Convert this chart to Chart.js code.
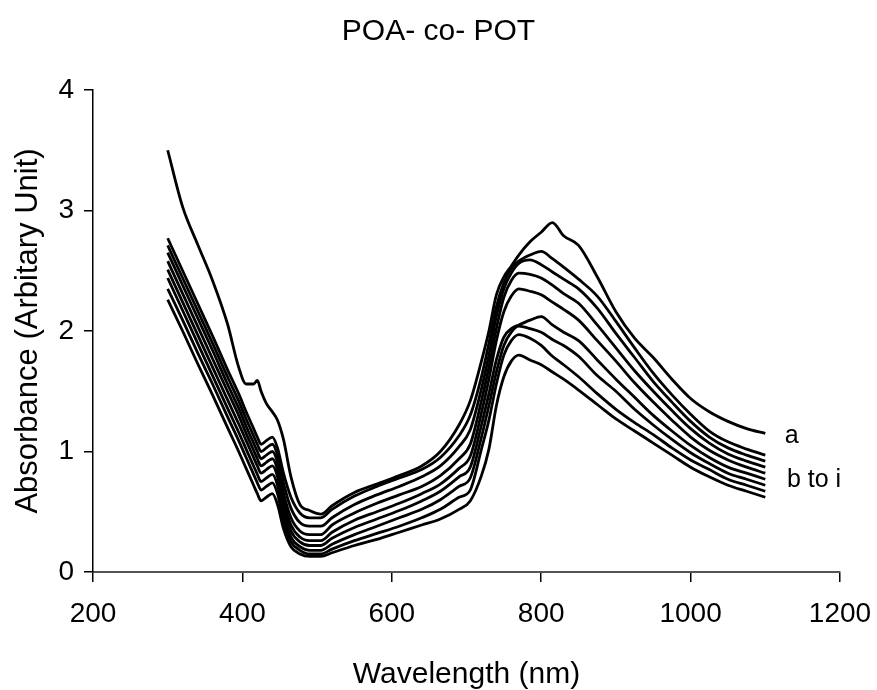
<!DOCTYPE html>
<html><head><meta charset="utf-8">
<script src="https://cdn.jsdelivr.net/npm/chart.js@4"></script>
<style>html,body{margin:0;padding:0;background:#fff}</style>
</head>
<body>
<canvas id="c" width="877" height="690"></canvas>
<script>
const wavelength=[300,320,340,360,380,395,405,415,420,425,432,440,447,455,465,477,490,505,520,550,580,610,640,665,690,705,720,730,740,750,760,770,785,800,815,830,850,875,900,925,950,975,1000,1025,1050,1075,1100];
const absA=[3.50,3.03,2.72,2.42,2.06, 1.70,1.56,1.56,1.59,1.50, 1.40,1.33,1.26,1.10,0.79, 0.56,0.51,0.48,0.55,0.66, 0.73,0.80,0.88,1.00,1.22, 1.42,1.75,2.00,2.30,2.45, 2.54,2.63,2.74,2.82,2.90, 2.79,2.71,2.45,2.16,1.94, 1.78,1.60,1.44,1.33,1.25, 1.19,1.15];
const absB=[2.77,2.50,2.23,1.96,1.68, 1.48,1.33,1.19,1.12,1.06, 1.09,1.12,1.03,0.82,0.62, 0.49,0.45,0.45,0.52,0.63, 0.71,0.78,0.85,0.95,1.13, 1.30,1.62,1.90,2.20,2.40, 2.52,2.58,2.63,2.66,2.60, 2.53,2.43,2.29,2.08,1.86, 1.65,1.47,1.31,1.17,1.08, 1.02,0.97];
const absC=[2.71,2.44,2.17,1.90,1.62, 1.42,1.27,1.13,1.06,1.00, 1.03,1.06,0.97,0.74,0.53, 0.41,0.38,0.38,0.45,0.56, 0.64,0.71,0.79,0.88,1.04, 1.18,1.52,1.80,2.12,2.35, 2.48,2.56,2.59,2.55,2.49, 2.43,2.35,2.19,1.98,1.78, 1.58,1.41,1.25,1.12,1.03, 0.97,0.92];
const absD=[2.65,2.38,2.11,1.84,1.56, 1.36,1.21,1.07,1.00,0.94, 0.97,1.00,0.91,0.66,0.45, 0.34,0.31,0.31,0.39,0.49, 0.57,0.64,0.71,0.80,0.94, 1.06,1.42,1.70,2.02,2.28, 2.42,2.48,2.47,2.44,2.38, 2.31,2.23,2.05,1.86,1.67, 1.50,1.34,1.19,1.07,0.98, 0.92,0.87];
const absE=[2.58,2.31,2.04,1.77,1.50, 1.30,1.15,1.01,0.94,0.88, 0.91,0.94,0.85,0.60,0.39, 0.29,0.26,0.26,0.33,0.43, 0.50,0.57,0.65,0.73,0.86, 0.96,1.32,1.60,1.92,2.16, 2.29,2.35,2.33,2.30,2.24, 2.18,2.09,1.92,1.75,1.57, 1.41,1.26,1.12,1.01,0.93, 0.87,0.82];
const absF=[2.51,2.24,1.97,1.70,1.43, 1.23,1.09,0.95,0.88,0.82, 0.85,0.88,0.79,0.54,0.34, 0.25,0.22,0.22,0.28,0.37, 0.44,0.51,0.59,0.67,0.79, 0.87,1.22,1.48,1.76,1.95, 2.02,2.05,2.09,2.12,2.05, 1.99,1.92,1.76,1.60,1.45, 1.30,1.17,1.05,0.95,0.87, 0.82,0.77];
const absG=[2.44,2.17,1.90,1.63,1.36, 1.16,1.02,0.88,0.81,0.75, 0.78,0.81,0.72,0.48,0.29, 0.21,0.18,0.18,0.23,0.31, 0.38,0.45,0.52,0.60,0.71, 0.78,1.12,1.38,1.66,1.88, 1.99,2.04,2.02,1.99,1.93, 1.88,1.79,1.63,1.50,1.35, 1.22,1.10,0.99,0.90,0.82, 0.77,0.72];
const absH=[2.35,2.09,1.82,1.56,1.29, 1.09,0.95,0.81,0.74,0.68, 0.71,0.74,0.65,0.42,0.25, 0.18,0.15,0.15,0.19,0.26, 0.32,0.38,0.45,0.52,0.62, 0.68,1.02,1.26,1.56,1.80, 1.92,1.97,1.94,1.88,1.79, 1.72,1.62,1.48,1.35,1.24, 1.14,1.03,0.93,0.85,0.77, 0.72,0.67];
const absI=[2.26,2.00,1.73,1.47,1.20, 1.00,0.86,0.72,0.65,0.59, 0.62,0.65,0.56,0.36,0.21, 0.15,0.13,0.13,0.16,0.22, 0.27,0.33,0.39,0.44,0.52, 0.59,0.80,1.02,1.38,1.62, 1.75,1.80,1.76,1.72,1.66, 1.60,1.51,1.39,1.27,1.17, 1.07,0.97,0.87,0.79,0.72, 0.67,0.62];
const seriesNames=['a','b','c','d','e','f','g','h','i'];
const seriesValues=[absA,absB,absC,absD,absE,absF,absG,absH,absI];
const xTicks=[200,400,600,800,1000,1200];
const yTicks=[0,1,2,3,4];
const curveLabels=['a','b to i'];

const FONT='"Liberation Sans", Arial, sans-serif';
const labelAnchors=[{x:1126,y:1.13},{x:1129,y:0.76}];

const labelPlugin={
  id:'curveLabels',
  afterDatasetsDraw(chart){
    const {ctx,scales}=chart;
    ctx.save();
    ctx.font='25px '+FONT;
    ctx.fillStyle='#000';
    ctx.textAlign='left';
    ctx.textBaseline='middle';
    curveLabels.forEach((t,k)=>{
      ctx.fillText(t,scales.x.getPixelForValue(labelAnchors[k].x),scales.y.getPixelForValue(labelAnchors[k].y));
    });
    ctx.restore();
  }
};

const datasets=seriesNames.map((n,k)=>({
  label:n,
  data:wavelength.map((w,j)=>({x:w,y:seriesValues[k][j]})),
  borderColor:'#000',
  borderWidth:2.8,
  pointRadius:0,
  fill:false,
  cubicInterpolationMode:'monotone'
}));

new Chart(document.getElementById('c'),{
  type:'line',
  data:{datasets},
  options:{
    responsive:false,
    animation:false,
    layout:{padding:{left:0,right:0,top:0,bottom:0}},
    plugins:{
      legend:{display:false},
      tooltip:{enabled:false},
      title:{display:true,text:'POA- co- POT',color:'#000',font:{family:FONT,size:30,weight:'normal'},padding:{top:14,bottom:40}}
    },
    scales:{
      x:{
        type:'linear',min:xTicks[0],max:xTicks[xTicks.length-1],
        afterBuildTicks(s){s.ticks=xTicks.map(v=>({value:v}));},
        ticks:{color:'#000',font:{family:FONT,size:28},padding:15,maxRotation:0,autoSkip:false,callback:v=>String(v)},
        grid:{drawOnChartArea:false,drawTicks:true,tickLength:10,color:'#000',lineWidth:1.5},
        border:{display:true,color:'#555',width:2},
        title:{display:true,text:'Wavelength (nm)',color:'#000',font:{family:FONT,size:30,lineHeight:1},padding:{top:0,bottom:0}},
        afterFit(s){s.height=118;s.paddingLeft=0;s.paddingRight=0;}
      },
      y:{
        type:'linear',min:yTicks[0],max:yTicks[yTicks.length-1],
        afterBuildTicks(s){s.ticks=yTicks.map(v=>({value:v}));},
        ticks:{color:'#000',font:{family:FONT,size:28},padding:10,callback:v=>String(v)},
        grid:{drawOnChartArea:false,drawTicks:true,tickLength:9,color:'#000',lineWidth:1.5},
        border:{display:true,color:'#000',width:1.5},
        title:{display:true,text:'Absorbance (Arbitary Unit)',color:'#000',font:{family:FONT,size:31,lineHeight:1},padding:{top:13,bottom:0}},
        afterFit(s){s.width=93;}
      },
      yRight:{
        type:'linear',position:'right',min:0,max:4,
        ticks:{display:false},
        grid:{display:false,drawTicks:false},
        border:{display:false},
        afterFit(s){s.width=37;}
      }
    }
  },
  plugins:[labelPlugin]
});
</script>
</body></html>
